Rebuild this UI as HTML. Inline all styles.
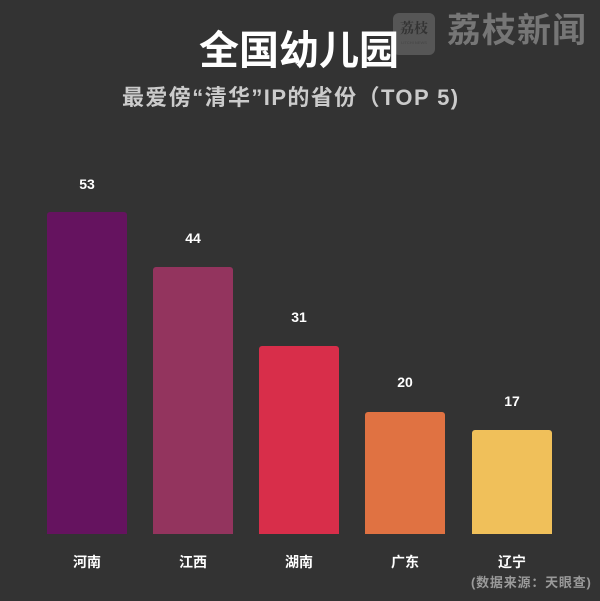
<!DOCTYPE html>
<html><head><meta charset="utf-8">
<style>
html,body{margin:0;padding:0;}
body{width:600px;height:601px;background:#333333;position:relative;overflow:hidden;font-family:"Liberation Sans","Noto Sans CJK SC",sans-serif;}
.a{position:absolute;white-space:nowrap;}
.bar{position:absolute;border-radius:3px 3px 0 0;}
.num{position:absolute;width:80px;text-align:center;color:#fff;font-weight:bold;font-size:14px;line-height:16px;}
.cat{position:absolute;width:80px;text-align:center;color:#fff;font-weight:bold;font-size:14px;line-height:16px;top:554px;}
</style></head><body>
<div class="a" style="left:393px;top:13px;width:42px;height:42px;background:#565656;border-radius:6px;"></div>
<div class="a" style="left:396px;top:20px;width:36px;text-align:center;color:#333;font-family:'Noto Serif CJK SC',serif;font-size:14px;font-weight:bold;line-height:16px;">荔枝</div>
<div class="a" style="left:398px;top:40px;width:32px;text-align:center;color:#444;font-size:4px;line-height:5px;">LITCHI NEWS</div>
<div class="a" style="left:447px;top:11px;color:#767676;font-size:34px;font-weight:bold;line-height:40px;letter-spacing:1px;">荔枝新闻</div>
<div class="a" style="left:199px;top:28px;color:#fff;font-size:40px;font-weight:bold;line-height:46px;">全国幼儿园</div>
<div class="a" style="left:122px;top:86px;color:#cbcbcb;font-size:22px;font-weight:bold;line-height:24px;letter-spacing:1.4px;">最爱傍“清华”IP的省份（TOP 5)</div>

<div class="bar" style="left:47px;top:212px;width:80px;height:322px;background:#65135f;"></div>
<div class="bar" style="left:153px;top:267px;width:80px;height:267px;background:#93345e;"></div>
<div class="bar" style="left:259px;top:346px;width:80px;height:188px;background:#d82e4a;"></div>
<div class="bar" style="left:365px;top:412px;width:80px;height:122px;background:#e07242;"></div>
<div class="bar" style="left:472px;top:430px;width:80px;height:104px;background:#f0c05a;"></div>

<div class="num" style="left:47px;top:176px;">53</div>
<div class="num" style="left:153px;top:230px;">44</div>
<div class="num" style="left:259px;top:309px;">31</div>
<div class="num" style="left:365px;top:374px;">20</div>
<div class="num" style="left:472px;top:393px;">17</div>

<div class="cat" style="left:47px;">河南</div>
<div class="cat" style="left:153px;">江西</div>
<div class="cat" style="left:259px;">湖南</div>
<div class="cat" style="left:365px;">广东</div>
<div class="cat" style="left:472px;">辽宁</div>

<div class="a" style="left:471px;top:575px;color:#9a9a9a;font-size:13px;font-weight:bold;line-height:16px;letter-spacing:0.8px;">(数据来源：天眼查)</div>
</body></html>
